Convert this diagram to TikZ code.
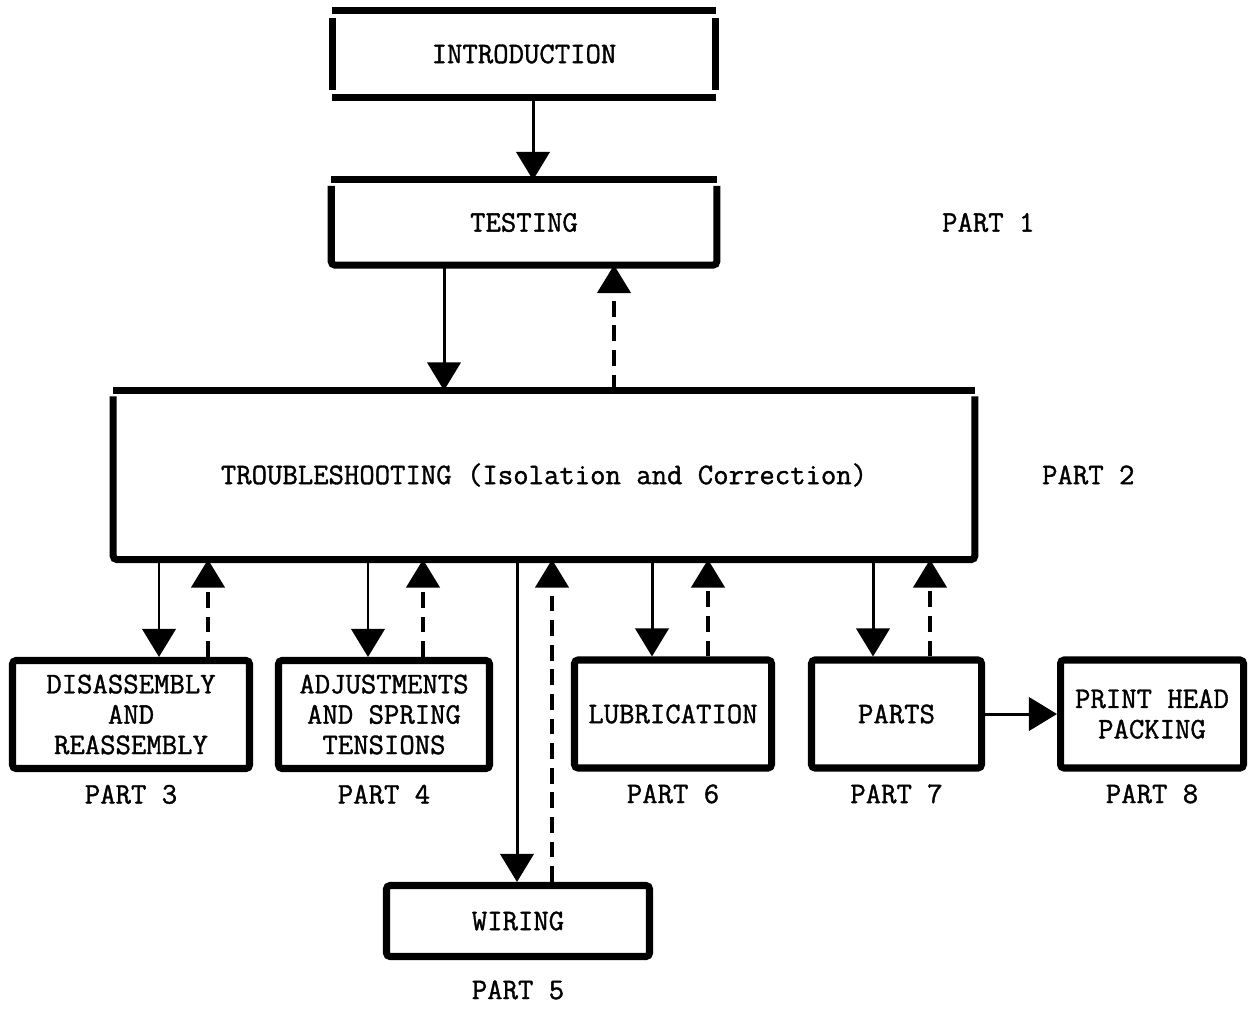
\documentclass[tikz,border=0pt]{standalone}
\usepackage{fontspec}
\setmonofont{Latin Modern Mono}[FakeBold=1.2]
\usetikzlibrary{arrows.meta,positioning}
\newcommand\typefont{\fontsize{17}{17.3}\selectfont\ttfamily}
\begin{document}
\begin{tikzpicture}[x=0.2mm,y=-0.2mm,
  every node/.style={font=\typefont},
  box/.style={draw,line width=4pt,rounded corners=2pt,inner sep=0pt,align=center,minimum height=21.6mm},
  frame/.style={inner sep=0pt,outer sep=2pt},
  partlabel/.style={inner sep=0pt},
  bar/.style={line width=4pt},
  feed/.style={line width=1.7pt,-{Triangle[width=19pt,length=16pt]}},
  back/.style={feed,line width=1.9pt,dash pattern=on 9pt off 5pt}]
\useasboundingbox (0,0) rectangle (1249,1009);
% top of the chart
\node[frame,minimum width=75.3mm,minimum height=16.1mm] (intro) at (524,54) {INTRODUCTION};
\node[frame,minimum width=75.7mm,minimum height=15.6mm] (testing) at (524,222.5) {TESTING};
\node[frame,minimum width=170.9mm,minimum height=32.4mm] (trouble) at (544,475) {TROUBLESHOOTING (Isolation and Correction)};
\draw[bar] (intro.north west) -- (intro.north east);
\draw[bar] (intro.south west) -- (intro.south east);
\draw[bar] ([yshift=-1.6mm]intro.north west) -- ([yshift=1.6mm]intro.south west);
\draw[bar] ([yshift=-1.6mm]intro.north east) -- ([yshift=1.6mm]intro.south east);
\draw[bar] (testing.north west) -- (testing.north east);
\draw[bar,rounded corners=2pt] ([yshift=-1.2mm]testing.north west) -- (testing.south west) -- (testing.south east) -- ([yshift=-1.2mm]testing.north east);
\draw[bar] (trouble.north west) -- (trouble.north east);
\draw[bar,rounded corners=2pt] ([yshift=-1.2mm]trouble.north west) -- (trouble.south west) -- (trouble.south east) -- ([yshift=-1.2mm]trouble.north east);
\node[partlabel,right=45mm of testing] (p1) {PART 1};
\node[partlabel,right=13.4mm of trouble] (p2) {PART 2};
% the parts below
\node[box,minimum width=47.4mm] (dis) at (131,714.5) {DISASSEMBLY\\AND\\REASSEMBLY};
\node[box,minimum width=42.2mm] (adj) at (384,714.5) {ADJUSTMENTS\\AND SPRING\\TENSIONS};
\node[box,minimum width=39.4mm] (lub) at (673,714) {LUBRICATION};
\node[box,minimum width=34mm] (parts) at (896.5,714) {PARTS};
\node[box,minimum width=36.6mm] (print) at (1152,714) {PRINT HEAD\\PACKING};
\node[box,minimum width=52.6mm,minimum height=14.2mm] (wiring) at (518,921) {WIRING};
\node[partlabel,below=2.5mm of dis] (p3) {PART 3};
\node[partlabel,below=2.5mm of adj] (p4) {PART 4};
\node[partlabel,below=2.5mm of lub] (p6) {PART 6};
\node[partlabel,below=2.5mm of parts] (p7) {PART 7};
\node[partlabel,below=2.5mm of print] (p8) {PART 8};
\node[partlabel,below=4mm of wiring] (p5) {PART 5};
% arrows
\draw[feed] ([xshift=1.8mm]intro.south) -- ([xshift=1.8mm]testing.north);
\draw[feed] ([xshift=-16mm]testing.south) -- ([xshift=-16mm]testing.south |- trouble.north);
\draw[back] ([xshift=18mm]testing.south |- trouble.north) -- ([xshift=18mm]testing.south);
\draw[feed] ([xshift=5.6mm]dis.north |- trouble.south) -- ([xshift=5.6mm]dis.north);
\draw[back] ([xshift=15.4mm]dis.north) -- ([xshift=15.4mm]dis.north |- trouble.south);
\draw[feed] ([xshift=-3.2mm]adj.north |- trouble.south) -- ([xshift=-3.2mm]adj.north);
\draw[back] ([xshift=7.8mm]adj.north) -- ([xshift=7.8mm]adj.north |- trouble.south);
\draw[feed] ([xshift=-0.2mm]wiring.north |- trouble.south) -- ([xshift=-0.2mm]wiring.north);
\draw[back] ([xshift=6.8mm]wiring.north) -- ([xshift=6.8mm]wiring.north |- trouble.south);
\draw[feed] ([xshift=-4.2mm]lub.north |- trouble.south) -- ([xshift=-4.2mm]lub.north);
\draw[back] ([xshift=7mm]lub.north) -- ([xshift=7mm]lub.north |- trouble.south);
\draw[feed] ([xshift=-4.7mm]parts.north |- trouble.south) -- ([xshift=-4.7mm]parts.north);
\draw[back] ([xshift=6.7mm]parts.north) -- ([xshift=6.7mm]parts.north |- trouble.south);
\draw[feed] (parts) -- (print);
\end{tikzpicture}
\end{document}
